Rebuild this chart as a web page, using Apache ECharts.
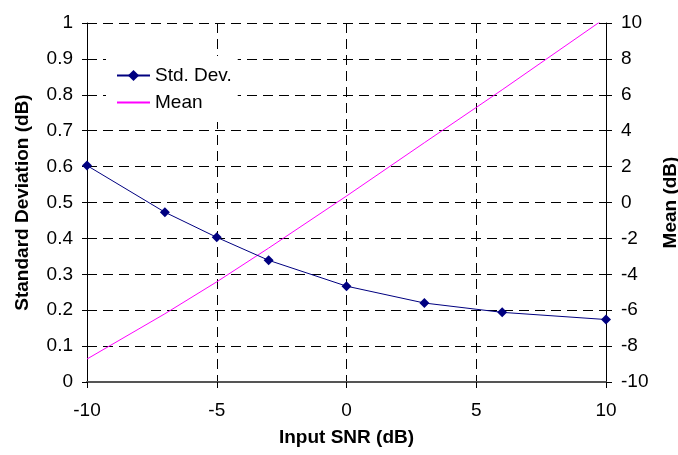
<!DOCTYPE html>
<html><head><meta charset="utf-8">
<script src="https://cdn.jsdelivr.net/npm/echarts@6/dist/echarts.min.js"></script>
<style>html,body{margin:0;padding:0;background:#fff}#c{width:678px;height:455px}</style>
</head><body><div id="c"></div>
<script>
const snr = [-10, -7, -5, -3, 0, 3, 6, 10];
const stdDev = [0.603, 0.473, 0.403, 0.339, 0.267, 0.220, 0.194, 0.174];
const meanDb = [-8.72, -6.2, -4.42, -2.54, 0.36, 3.33, 6.28, 10.3];
const seriesNames = ['Std. Dev.', 'Mean'];
const xTitle = 'Input SNR (dB)';
const yLeftTitle = 'Standard Deviation (dB)';
const yRightTitle = 'Mean (dB)';

const FONT = '"Liberation Sans", Arial, sans-serif';
const FS = 19;
const dashed = {show: true, lineStyle: {color: '#000', width: 1, type: [10, 6]}};

const chart = echarts.init(document.getElementById('c'));
chart.setOption({
  animation: false,
  backgroundColor: '#fff',
  textStyle: {fontFamily: FONT, color: '#000'},
  grid: {left: 87, right: 72, top: 23, bottom: 73, containLabel: false, outerBoundsMode: 'none'},
  legend: {
    orient: 'vertical', left: 106, top: 56,
    padding: [10, 6, 10, 10],
    backgroundColor: '#fff',
    itemWidth: 33, itemHeight: 14, itemGap: 8,
    textStyle: {fontFamily: FONT, fontSize: FS, color: '#000', lineHeight: 18},
    data: [seriesNames[0], {name: seriesNames[1], itemStyle: {opacity: 0}}]
  },
  xAxis: {
    type: 'value', min: -10, max: 10, interval: 5,
    name: xTitle, nameLocation: 'middle', nameGap: 46,
    nameTextStyle: {fontFamily: FONT, fontSize: FS, fontWeight: 'bold', color: '#000'},
    axisLine: {show: true, onZero: false, lineStyle: {color: '#555', width: 2}},
    axisTick: {show: true, length: 6, lineStyle: {color: '#000'}},
    axisLabel: {fontFamily: FONT, fontSize: FS, color: '#000', margin: 19},
    splitLine: dashed
  },
  yAxis: [{
    type: 'value', min: 0, max: 1, interval: 0.1, position: 'left',
    name: yLeftTitle, nameLocation: 'middle', nameGap: 55, nameRotate: 90,
    nameTextStyle: {fontFamily: FONT, fontSize: FS, fontWeight: 'bold', color: '#000'},
    axisLine: {show: true, onZero: false, lineStyle: {color: '#000', width: 1}},
    axisTick: {show: true, length: 5, lineStyle: {color: '#000'}},
    axisLabel: {fontFamily: FONT, fontSize: FS, color: '#000', margin: 14},
    splitLine: dashed
  }, {
    type: 'value', min: -10, max: 10, interval: 2, position: 'right',
    name: yRightTitle, nameLocation: 'middle', nameGap: 55, nameRotate: 90,
    nameTextStyle: {fontFamily: FONT, fontSize: FS, fontWeight: 'bold', color: '#000'},
    axisLine: {show: true, onZero: false, lineStyle: {color: '#000', width: 1}},
    axisTick: {show: true, length: 6, lineStyle: {color: '#000'}},
    axisLabel: {fontFamily: FONT, fontSize: FS, color: '#000', margin: 15},
    splitLine: {show: false}
  }],
  series: [{
    name: seriesNames[0], type: 'line', yAxisIndex: 0,
    data: snr.map((x, i) => [x, stdDev[i]]),
    symbol: 'diamond', symbolSize: 10,
    lineStyle: {color: '#000080', width: 1},
    itemStyle: {color: '#000080'},
    z: 3
  }, {
    name: seriesNames[1], type: 'line', yAxisIndex: 1,
    data: snr.map((x, i) => [x, meanDb[i]]),
    symbol: 'none', showSymbol: false, clip: true,
    lineStyle: {color: '#ff00ff', width: 1},
    itemStyle: {color: '#ff00ff'},
    z: 2
  }]
});
</script></body></html>
